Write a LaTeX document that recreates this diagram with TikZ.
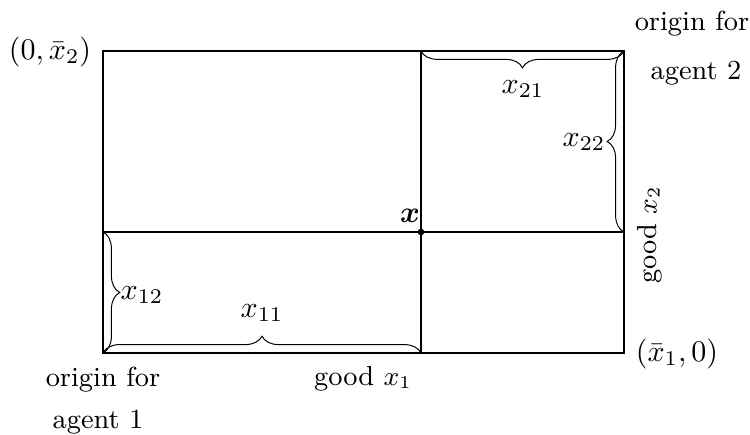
\documentclass[tikz,border=0pt]{standalone}
\usepackage{amsmath}
\usetikzlibrary{decorations.pathreplacing}
\begin{document}
\begin{tikzpicture}[x=0.3333pt,y=-0.3333pt,
  edge/.style={line width=0.38pt},
  brc/.style={decorate,decoration={brace,amplitude=5.6pt},line width=0.33pt},
  txt/.style={inner sep=0pt,font=\fontsize{9.2}{11}\selectfont},
  lbl/.style={inner sep=0pt}]
\useasboundingbox (0,0) rectangle (750,435);
\coordinate (TL) at (103,51);
\coordinate (TR) at (624,51);
\coordinate (BL) at (103,353);
\coordinate (BR) at (624,353);
\coordinate (ML) at (103,232);
\coordinate (MR) at (624,232);
\coordinate (MT) at (421,51);
\coordinate (MB) at (421,353);
\coordinate (X) at (421,232);
\draw[edge] (TL) rectangle (BR);
\draw[edge] (ML) -- (MR);
\draw[edge] (MT) -- (MB);
\fill (X) circle (1.1pt);
% braces
\draw[brc] (TR) -- (MT);
\draw[brc] (MR) -- (TR);
\draw[brc] (BL) -- (MB);
\draw[brc] (ML) -- (BL);
% labels
\node[lbl] (x) at (410,216) {$\boldsymbol{x}$};
\node[lbl] (x21) at (523,89) {$x_{21}$};
\node[lbl] (x22) at (584,142) {$x_{22}$};
\node[lbl] (x11) at (262,313) {$x_{11}$};
\node[lbl] (x12) at (142,295) {$x_{12}$};
\node[lbl] (p0) at (50,52) {$(0,\bar{x}_2)$};
\node[lbl] (p1) at (677,354) {$(\bar{x}_1,0)$};
\node[txt] (o2a) at (692,24) {origin for};
\node[txt] (o2b) at (696,73) {agent 2};
\node[txt] (o1a) at (103,380) {origin for};
\node[txt] (o1b) at (98,422) {agent 1};
\node[txt] (g1) at (363,379) {good $x_1$};
\node[txt,rotate=90] (g2) at (650,235) {good $x_2$};
\end{tikzpicture}
\end{document}
